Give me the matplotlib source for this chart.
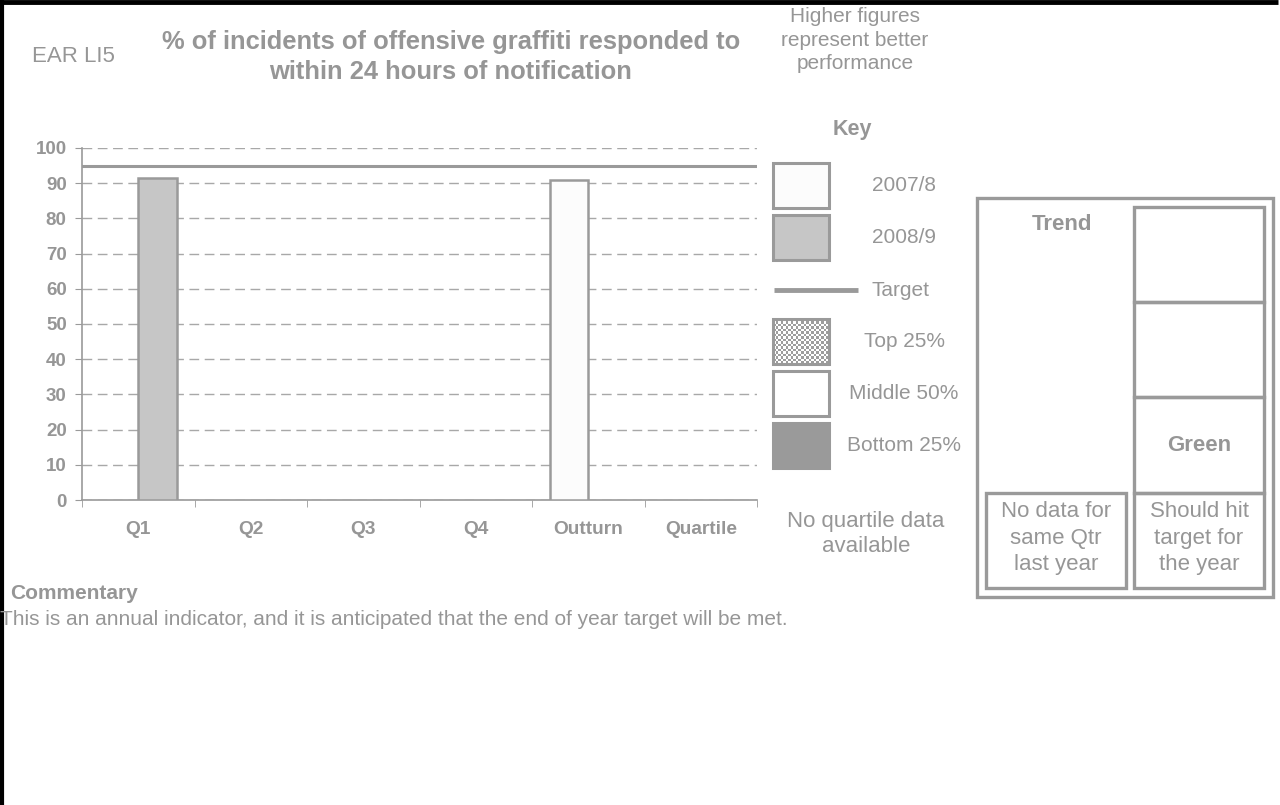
import matplotlib.pyplot as plt
import matplotlib.patches as mpatches
import numpy as np

plt.rcParams['font.family'] = ['Liberation Sans', 'DejaVu Sans']

GREY_TXT = '#969696'
GREY_LN = '#9a9a9a'

# Indicator values
categories = ['Q1', 'Q2', 'Q3', 'Q4', 'Outturn', 'Quartile']
vals_0708 = [np.nan, np.nan, np.nan, np.nan, 90.8, np.nan]
vals_0809 = [91.6, np.nan, np.nan, np.nan, np.nan, np.nan]
target = 95
yticks = list(range(0, 101, 10))

key_labels = ['2007/8', '2008/9', 'Target', 'Top 25%', 'Middle 50%', 'Bottom 25%']

W, H = 1280, 805
fig = plt.figure(figsize=(W / 100, H / 100), dpi=100)
fig.patch.set_facecolor('white')

# main bar chart
ax = fig.add_axes([82 / W, 1 - 500 / H, (757 - 82) / W, (500 - 148) / H])
x = np.arange(len(categories))
bw = 0.34
ax.bar(x - bw / 2, vals_0708, bw, color='#fcfcfc', edgecolor=GREY_LN, linewidth=1.8, zorder=3)
ax.bar(x + bw / 2, vals_0809, bw, color='#c6c6c6', edgecolor=GREY_LN, linewidth=1.8, zorder=3)
ax.axhline(target, color=GREY_LN, linewidth=2.2, zorder=4)

ax.set_xlim(-0.5, len(categories) - 0.5)
ax.set_ylim(0, 100)
ax.set_yticks(yticks)
ax.grid(axis='y', color='#a8a8a8', linestyle=(0, (7, 4)), linewidth=1)
ax.set_axisbelow(True)

ax.set_xticks(x)
ax.set_xticklabels(categories, fontsize=13.8, fontweight='bold', color=GREY_TXT)
ax.set_xticks(np.arange(-0.5, len(categories)), minor=True)
ax.tick_params(axis='x', which='major', length=0, pad=15)
ax.tick_params(axis='x', which='minor', length=5, color=GREY_LN, direction='out')
ax.tick_params(axis='y', length=5, color=GREY_LN, labelcolor=GREY_TXT, labelsize=13.5, pad=6)
for lbl in ax.get_yticklabels():
    lbl.set_fontweight('bold')

for side in ['top', 'right']:
    ax.spines[side].set_visible(False)
for side in ['left', 'bottom']:
    ax.spines[side].set_color(GREY_LN)
    ax.spines[side].set_linewidth(1.2)

# overlay in pixel space for headings, key and trend panel
ov = fig.add_axes([0, 0, 1, 1], facecolor='none')
ov.set_xlim(0, W)
ov.set_ylim(H, 0)
ov.axis('off')

# page border (top and left)
ov.plot([0, 1278], [2, 2], color='black', linewidth=3.5, solid_capstyle='butt')
ov.plot([1.5, 1.5], [0, H], color='black', linewidth=3, solid_capstyle='butt')

ov.text(32, 57, 'EAR LI5', fontsize=16, color=GREY_TXT, ha='left', va='center')
ov.text(451, 57, '% of incidents of offensive graffiti responded to\nwithin 24 hours of notification',
        fontsize=18.4, fontweight='bold', color=GREY_TXT, ha='center', va='center',
        linespacing=1.33)
ov.text(855, 40, 'Higher figures\nrepresent better\nperformance', fontsize=15,
        color=GREY_TXT, ha='center', va='center', linespacing=1.32)
ov.text(852, 130, 'Key', fontsize=15.5, fontweight='bold', color=GREY_TXT,
        ha='center', va='center')

# key swatches
box_x, box_w, box_h = 773, 56, 45
key_y = [163, 215, None, 319, 371, 423]
fills = ['#fcfcfc', '#c6c6c6', None, None, 'white', GREY_LN]
for lab, top, fc in zip(key_labels, key_y, fills):
    if lab == 'Target':
        ov.plot([774, 858], [290, 290], color=GREY_LN, linewidth=3.5, solid_capstyle='butt')
        ov.text(871, 290, lab, fontsize=15, color=GREY_TXT, ha='left', va='center')
        continue
    if lab == 'Top 25%':
        nx, ny = 22, 18
        checker = (np.add.outer(np.arange(ny), np.arange(nx)) % 2).astype(float)
        ov.imshow(checker, cmap='gray', vmin=-1.6, vmax=1, interpolation='nearest',
                  extent=[box_x, box_x + box_w, top + box_h, top], aspect='auto', zorder=2)
        ov.add_patch(mpatches.Rectangle((box_x, top), box_w, box_h, facecolor='none',
                                        edgecolor=GREY_LN, linewidth=2.2, zorder=3))
    else:
        ov.add_patch(mpatches.Rectangle((box_x, top), box_w, box_h, facecolor=fc,
                                        edgecolor=GREY_LN, linewidth=2.2, zorder=3))
    ov.text(904, top + box_h / 2, lab, fontsize=15, color=GREY_TXT, ha='center', va='center')
ov.set_xlim(0, W)
ov.set_ylim(H, 0)

ov.text(866, 534, 'No quartile data\navailable', fontsize=16, color=GREY_TXT,
        ha='center', va='center', linespacing=1.3)

# trend panel
def box(x0, y0, x1, y1):
    ov.add_patch(mpatches.Rectangle((x0, y0), x1 - x0, y1 - y0, facecolor='none',
                                    edgecolor=GREY_LN, linewidth=2.4, zorder=3))

box(977, 198, 1273, 597)
box(1134, 207, 1264, 302)
box(1134, 302, 1264, 397)
box(1134, 397, 1264, 493)
box(1134, 493, 1264, 588)
box(986, 493, 1126, 588)

ov.text(1062, 224, 'Trend', fontsize=16, fontweight='bold', color=GREY_TXT,
        ha='center', va='center')
ov.text(1199, 445, 'Green', fontsize=16, fontweight='bold', color=GREY_TXT,
        ha='center', va='center')
ov.text(1056, 538, 'No data for\nsame Qtr\nlast year', fontsize=16, color=GREY_TXT,
        ha='center', va='center', linespacing=1.32)
ov.text(1199, 538, 'Should hit\ntarget for\nthe year', fontsize=16, color=GREY_TXT,
        ha='center', va='center', linespacing=1.32)

# commentary
ov.text(10, 593, 'Commentary', fontsize=15, fontweight='bold', color=GREY_TXT,
        ha='left', va='center')
ov.text(0, 619, 'This is an annual indicator, and it is anticipated that the end of year target will be met.',
        fontsize=15, color=GREY_TXT, ha='left', va='center')

fig.savefig('out.png', dpi=100)
